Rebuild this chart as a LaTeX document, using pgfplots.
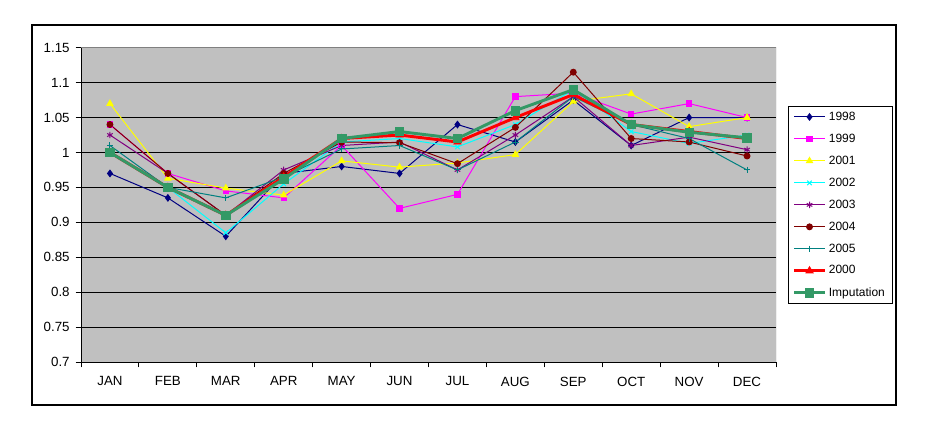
\documentclass[border=0pt]{standalone}
\usepackage{pgfplots}
\pgfplotsset{compat=1.18}
\usepackage{fontspec}
\setmainfont{Liberation Sans}
\definecolor{xnavy}{RGB}{0,0,128}
\definecolor{xmag}{RGB}{255,0,255}
\definecolor{xyel}{RGB}{255,255,0}
\definecolor{xcyan}{RGB}{0,255,255}
\definecolor{xpurp}{RGB}{128,0,128}
\definecolor{xmaroon}{RGB}{128,0,0}
\definecolor{xteal}{RGB}{0,128,128}
\definecolor{xred}{RGB}{255,0,0}
\definecolor{xgreen}{RGB}{51,153,102}
\definecolor{xbg}{RGB}{192,192,192}
\begin{document}
\begin{tikzpicture}
\useasboundingbox (0,0) rectangle (696pt,321.75pt);
\draw[line width=0.9pt] (24pt,18pt) rectangle (672pt,303pt);
\begin{axis}[
  at={(60.75pt,50.25pt)}, anchor=south west,
  scale only axis, width=521.25pt, height=235.7pt,
  xmin=-0.5, xmax=11.5, ymin=0.7, ymax=1.15,
  axis background/.style={fill=xbg},
  axis x line*=bottom, axis y line*=left,
  axis line style={black, line width=0.7pt},
  xtick={-0.5,0.5,...,11.5},
  xticklabels={},
  extra x ticks={0,1,2,3,4,5,6,7,8,9,10,11},
  extra x tick labels={JAN,FEB,MAR,APR,MAY,JUN,JUL,AUG,SEP,OCT,NOV,DEC},
  extra x tick style={major tick length=0pt, grid=none},
  ytick={0.7,0.75,...,1.15},
  major tick length=4pt,
  tick align=outside,
  tick style={black, line width=0.7pt},
  ymajorgrids,
  major grid style={black, line width=0.6pt},
  yticklabel style={/pgf/number format/fixed, /pgf/number format/precision=2, /pgf/number format/assume math mode=true},
  tick label style={font=\fontsize{10}{12}\selectfont},
  xticklabel style={yshift=-7.5pt},
  yticklabel style={xshift=-1pt},
  legend style={at={(1.017,0.8145)}, anchor=north west, draw=black, line width=0.6pt,
    font=\fontsize{9}{10.8}\selectfont, row sep=4.7pt, inner ysep=2pt, inner xsep=3.5pt,
    cells={anchor=west}},
  legend image code/.code={\draw[mark repeat=2,mark phase=2,#1] plot coordinates {(0cm,0cm) (0.4cm,0cm) (0.8cm,0cm)};},
  every axis plot/.append style={line width=0.75pt},
]
\draw[gray, line width=0.75pt] (rel axis cs:0,1) -- (rel axis cs:1,1) -- (rel axis cs:1,0);
\addplot[color=xnavy, mark=diamond*, mark size=2.4pt] coordinates {(0,0.97)(1,0.935)(2,0.88)(3,0.97)(4,0.98)(5,0.97)(6,1.04)(7,1.015)(8,1.075)(9,1.01)(10,1.05)(11,1.05)};
\addlegendentry{1998}
\addplot[color=xmag, mark=square*, mark size=2pt] coordinates {(0,1.04)(1,0.97)(2,0.945)(3,0.935)(4,1.01)(5,0.92)(6,0.94)(7,1.08)(8,1.085)(9,1.055)(10,1.07)(11,1.05)};
\addlegendentry{1999}
\addplot[color=xyel, mark=triangle*, mark size=2.6pt] coordinates {(0,1.07)(1,0.963)(2,0.949)(3,0.939)(4,0.988)(5,0.979)(6,0.985)(7,0.997)(8,1.073)(9,1.084)(10,1.037)(11,1.05)};
\addlegendentry{2001}
\addplot[color=xcyan, mark=x, mark size=2.4pt] coordinates {(0,1.0)(1,0.95)(2,0.885)(3,0.955)(4,1.015)(5,1.02)(6,1.008)(7,1.04)(8,1.09)(9,1.03)(10,1.013)(11,1.025)};
\addlegendentry{2002}
\addplot[color=xpurp, mark=asterisk, mark size=2.4pt] coordinates {(0,1.025)(1,0.97)(2,0.91)(3,0.975)(4,1.01)(5,1.015)(6,0.975)(7,1.025)(8,1.08)(9,1.01)(10,1.022)(11,1.004)};
\addlegendentry{2003}
\addplot[color=xmaroon, mark=*, mark size=2.2pt] coordinates {(0,1.04)(1,0.97)(2,0.91)(3,0.97)(4,1.015)(5,1.014)(6,0.984)(7,1.036)(8,1.115)(9,1.02)(10,1.015)(11,0.995)};
\addlegendentry{2004}
\addplot[color=xteal, mark=+, mark size=2.4pt] coordinates {(0,1.01)(1,0.95)(2,0.935)(3,0.965)(4,1.005)(5,1.01)(6,0.975)(7,1.015)(8,1.08)(9,1.04)(10,1.02)(11,0.975)};
\addlegendentry{2005}
\addplot[color=xred, mark=triangle*, mark size=3.2pt, line width=2.2pt, mark options={line width=0.5pt}] coordinates {(0,1.0)(1,0.95)(2,0.91)(3,0.965)(4,1.02)(5,1.025)(6,1.015)(7,1.05)(8,1.083)(9,1.04)(10,1.03)(11,1.02)};
\addlegendentry{2000}
\addplot[color=xgreen, mark=square*, mark size=3.2pt, line width=2.2pt, mark options={line width=0.5pt}] coordinates {(0,1.0)(1,0.95)(2,0.91)(3,0.962)(4,1.02)(5,1.03)(6,1.02)(7,1.06)(8,1.09)(9,1.04)(10,1.029)(11,1.021)};
\addlegendentry{Imputation}
\end{axis}
\end{tikzpicture}
\end{document}
